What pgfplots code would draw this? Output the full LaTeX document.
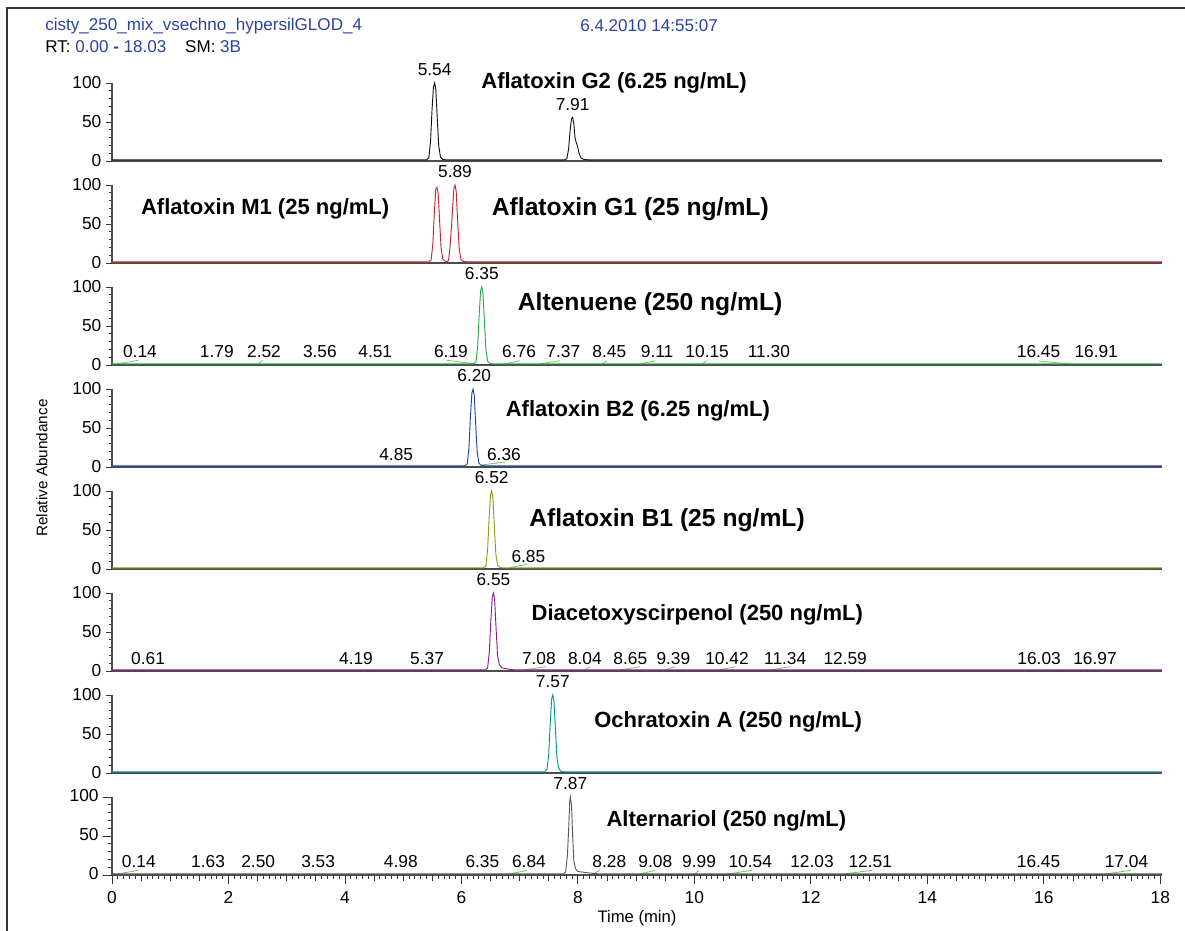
\documentclass[border=0pt]{standalone}
\usepackage{pgfplots}
\pgfplotsset{compat=1.18}
\usepackage{fontspec}
\setmainfont{Liberation Sans}
\definecolor{cG2}{RGB}{20,20,20}
\definecolor{cRed}{RGB}{210,30,40}
\definecolor{cGreen}{RGB}{40,170,70}
\definecolor{cBlue}{RGB}{25,70,170}
\definecolor{cOlive}{RGB}{150,150,25}
\definecolor{cPurple}{RGB}{145,25,145}
\definecolor{cTeal}{RGB}{0,150,150}
\definecolor{cGray}{RGB}{90,90,90}
\definecolor{cNoise}{RGB}{110,200,90}
\definecolor{hdr}{RGB}{45,65,160}
\pgfplotsset{
  panel/.style={
    scale only axis, width=787.5pt, height=58.5pt,
    xmin=0, xmax=18.03, ymin=0, ymax=100,
    axis lines*=left,
    axis line style={draw=black!70, line width=0.9pt},
    ytick={0,50,100}, minor y tick num=4,
    tick align=outside,
    major tick length=4.5pt, minor tick length=2.6pt,
    tick style={black!80, line width=0.6pt},
    clip=false,
    anchor=south west,
    ticklabel style={font=\fontsize{13}{15}\selectfont},
    /pgf/number format/assume math mode=true,
  },
  upper/.style={panel, xtick=\empty},
  trace/.style={line width=0.7pt, mark=none},
}
\tikzset{
  numlbl/.style={font=\fontsize{13}{15}\selectfont, anchor=base, inner sep=0pt},
  boldlbl/.style={font=\fontsize{16.5}{19}\selectfont\bfseries, inner sep=0pt},
  boldbig/.style={font=\fontsize{18.5}{21}\selectfont\bfseries, inner sep=0pt},
}
\newcommand{\pl}[3]{\node[numlbl] at (axis cs:#1,#2) {#3};}
\newcommand{\seg}[4]{\addplot[cNoise, line width=0.6pt] coordinates {(#1,#2) (#3,#4)};}
\begin{document}
\begin{tikzpicture}
\path[use as bounding box] (0,0) rectangle (888.75pt,-698.25pt);
\draw[black!80, line width=1.1pt] (5.25pt,-698.25pt) -- (5.25pt,-6pt) -- (888.75pt,-6pt);
\node[anchor=west, inner sep=0pt, text=hdr, font=\fontsize{12.8}{15}\selectfont] at (33.75pt,-19.5pt) {cisty\_250\_mix\_vsechno\_hypersilGLOD\_4};
\node[anchor=west, inner sep=0pt, text=hdr, font=\fontsize{12.8}{15}\selectfont] at (435pt,-19.5pt) {6.4.2010 14:55:07};
\node[anchor=west, inner sep=0pt, font=\fontsize{12.8}{15}\selectfont] at (33.75pt,-35.25pt) {RT: \textcolor{hdr}{0.00 \textbf{-} 18.03}\hspace{1.1em}SM: \textcolor{hdr}{3B}};
\node[rotate=90, font=\fontsize{11.5}{14}\selectfont] at (31.5pt,-351pt) {Relative Abundance};
\node[font=\fontsize{12.5}{15}\selectfont] at (477.75pt,-688.5pt) {Time (min)};

% Panel 1: Aflatoxin G2
\begin{axis}[upper, at={(84pt,-120.75pt)}]
\addplot[trace, cG2] coordinates {(0,1.5) (5.40,1.5) (5.44,4) (5.47,25) (5.495,65) (5.52,95) (5.54,100) (5.56,92) (5.585,55) (5.61,20) (5.64,5) (5.68,2) (5.74,1.5) (7.77,1.5) (7.81,3) (7.84,15) (7.865,38) (7.89,54) (7.91,56) (7.93,48) (7.95,30) (7.97,24) (7.99,20) (8.02,10) (8.05,4) (8.10,2) (8.18,1.5) (18.03,1.5)};
\pl{5.54}{110}{5.54}
\pl{7.91}{65}{7.91}
\node[boldlbl] at (axis cs:8.62,100) {Aflatoxin G2 (6.25 ng/mL)};
\end{axis}

% Panel 2: Aflatoxin M1 & G1
\begin{axis}[upper, at={(84pt,-197.25pt)}]
\addplot[trace, cRed] coordinates {(0,1.5) (5.44,1.5) (5.48,4) (5.51,25) (5.535,65) (5.56,95) (5.58,97) (5.60,90) (5.625,55) (5.65,20) (5.68,5) (5.72,2) (5.76,1.5) (5.78,4) (5.81,25) (5.845,65) (5.87,95) (5.89,100) (5.91,92) (5.935,55) (5.96,20) (5.99,5) (6.03,2) (6.09,1.5) (18.03,1.5)};
\pl{5.89}{110}{5.89}
\node[boldlbl] at (axis cs:2.63,69) {Aflatoxin M1 (25 ng/mL)};
\node[boldbig] at (axis cs:8.90,69) {Aflatoxin G1 (25 ng/mL)};
\end{axis}

% Panel 3: Altenuene
\begin{axis}[upper, at={(84pt,-273.75pt)}]
\seg{0.09}{1.5}{0.45}{6}
\seg{2.51}{1.5}{2.59}{6}
\seg{5.75}{6}{6.23}{1.5}
\seg{6.75}{1.5}{7.01}{5.5}
\seg{7.35}{1.5}{7.69}{5.5}
\seg{8.42}{1.5}{8.50}{5.5}
\seg{9.09}{1.5}{9.33}{5.5}
\seg{10.13}{1.5}{10.22}{5.5}
\seg{15.91}{5}{16.45}{1.5}
\addplot[trace, cGreen] coordinates {(0,1.5) (6.21,1.5) (6.25,4) (6.28,25) (6.305,65) (6.33,95) (6.35,100) (6.37,92) (6.395,55) (6.42,20) (6.45,5) (6.49,2) (6.55,1.5) (18.03,1.5)};
\pl{6.35}{110}{6.35}
\pl{0.48}{9}{0.14}
\pl{1.80}{9}{1.79}
\pl{2.61}{9}{2.52}
\pl{3.57}{9}{3.56}
\pl{4.52}{9}{4.51}
\pl{5.82}{9}{6.19}
\pl{6.99}{9}{6.76}
\pl{7.75}{9}{7.37}
\pl{8.54}{9}{8.45}
\pl{9.36}{9}{9.11}
\pl{10.22}{9}{10.15}
\pl{11.28}{9}{11.30}
\pl{15.91}{9}{16.45}
\pl{16.90}{9}{16.91}
\node[boldbig] at (axis cs:9.24,78) {Altenuene (250 ng/mL)};
\end{axis}

% Panel 4: Aflatoxin B2
\begin{axis}[upper, at={(84pt,-350.25pt)}]
\seg{6.34}{2.5}{6.75}{6.4}
\addplot[trace, cBlue] coordinates {(0,1.5) (6.06,1.5) (6.10,4) (6.13,25) (6.155,65) (6.18,95) (6.20,100) (6.22,92) (6.245,55) (6.27,20) (6.30,5) (6.34,2) (6.40,1.5) (18.03,1.5)};
\pl{6.22}{110}{6.20}
\pl{4.88}{8}{4.85}
\pl{6.73}{8}{6.36}
\node[boldlbl] at (axis cs:9.03,72) {Aflatoxin B2 (6.25 ng/mL)};
\end{axis}

% Panel 5: Aflatoxin B1
\begin{axis}[upper, at={(84pt,-426.75pt)}]
\seg{6.84}{2}{7.13}{6}
\addplot[trace, cOlive] coordinates {(0,1.5) (6.38,1.5) (6.42,4) (6.45,25) (6.475,65) (6.50,95) (6.52,100) (6.54,92) (6.565,55) (6.59,20) (6.62,5) (6.66,2) (6.72,1.5) (18.03,1.5)};
\pl{6.52}{109}{6.52}
\pl{7.15}{8}{6.85}
\node[boldbig] at (axis cs:9.53,63) {Aflatoxin B1 (25 ng/mL)};
\end{axis}

% Panel 6: Diacetoxyscirpenol
\begin{axis}[upper, at={(84pt,-503.25pt)}]
\seg{7.09}{1.5}{7.45}{5.5}
\seg{8.12}{1.5}{8.21}{5.5}
\seg{8.73}{1.5}{9.07}{5.5}
\seg{9.50}{1.5}{9.67}{5.5}
\seg{10.44}{1.5}{10.70}{5.5}
\seg{11.30}{1.5}{11.65}{5.5}
\addplot[trace, cPurple] coordinates {(0,1.5) (6.41,1.5) (6.45,4) (6.48,25) (6.505,65) (6.53,95) (6.55,100) (6.57,92) (6.595,55) (6.62,20) (6.65,8) (6.70,4) (6.80,2.5) (6.90,1.5) (18.03,1.5)};
\pl{6.55}{109}{6.55}
\pl{0.62}{8}{0.61}
\pl{4.19}{8}{4.19}
\pl{5.41}{8}{5.37}
\pl{7.33}{8}{7.08}
\pl{8.12}{8}{8.04}
\pl{8.90}{8}{8.65}
\pl{9.64}{8}{9.39}
\pl{10.56}{8}{10.42}
\pl{11.56}{8}{11.34}
\pl{12.59}{8}{12.59}
\pl{15.92}{8}{16.03}
\pl{16.88}{8}{16.97}
\node[boldlbl] at (axis cs:10.05,72) {Diacetoxyscirpenol (250 ng/mL)};
\end{axis}

% Panel 7: Ochratoxin A
\begin{axis}[upper, at={(84pt,-579.75pt)}]
\addplot[trace, cTeal] coordinates {(0,1.5) (7.43,1.5) (7.47,5) (7.50,25) (7.525,65) (7.55,95) (7.57,100) (7.59,92) (7.615,55) (7.64,20) (7.67,6) (7.71,2) (7.77,1.5) (18.03,1.5)};
\pl{7.57}{109}{7.57}
\node[boldlbl] at (axis cs:10.58,65) {Ochratoxin A (250 ng/mL)};
\end{axis}

% Panel 8: Alternariol
\begin{axis}[panel, at={(84pt,-656.25pt)},
  xtick={0,2,...,18},
  minor xtick={0,0.1,...,18.0},
  extra x ticks={0.5,1,...,17.5}, extra x tick labels={},
  extra x tick style={major tick length=4.5pt},
  major tick length=6.5pt, minor tick length=2.8pt,
  typeset ticklabels with strut,
  xticklabel style={yshift=-1pt}]
\seg{0.10}{1.5}{0.45}{6}
\seg{6.84}{1.5}{7.13}{6}
\seg{8.26}{1.5}{8.38}{6}
\seg{9.07}{1.5}{9.33}{6}
\seg{10.01}{1.5}{10.08}{6}
\seg{10.58}{1.5}{10.99}{6}
\seg{12.59}{1.5}{13.05}{6}
\seg{17.07}{1.5}{17.50}{6}
\addplot[trace, cGray] coordinates {(0,1.5) (7.75,1.5) (7.79,4) (7.82,25) (7.845,65) (7.86,95) (7.87,100) (7.89,90) (7.91,50) (7.93,18) (7.96,8) (8.00,4.5) (8.10,3.5) (8.20,2.5) (8.35,1.5) (18.03,1.5)};
\pl{7.87}{109}{7.87}
\pl{0.46}{9}{0.14}
\pl{1.65}{9}{1.63}
\pl{2.51}{9}{2.50}
\pl{3.54}{9}{3.53}
\pl{4.96}{9}{4.98}
\pl{6.36}{9}{6.35}
\pl{7.16}{9}{6.84}
\pl{8.54}{9}{8.28}
\pl{9.33}{9}{9.08}
\pl{10.08}{9}{9.99}
\pl{10.96}{9}{10.54}
\pl{12.02}{9}{12.03}
\pl{13.02}{9}{12.51}
\pl{15.91}{9}{16.45}
\pl{17.42}{9}{17.04}
\node[boldlbl] at (axis cs:10.55,70) {Alternariol (250 ng/mL)};
\end{axis}
\end{tikzpicture}
\end{document}
